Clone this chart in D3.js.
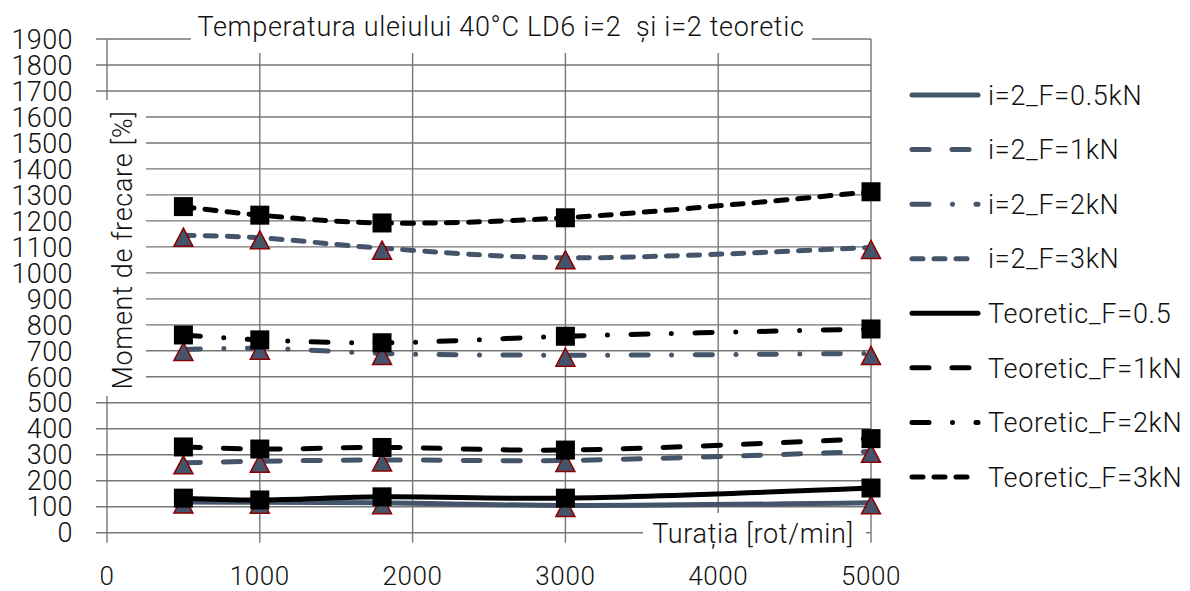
<!DOCTYPE html>
<html>
<head>
<meta charset="utf-8">
<script src="https://cdn.jsdelivr.net/npm/d3@7/dist/d3.min.js"></script>
<style>
  html, body { margin: 0; padding: 0; background: #fff; }
  svg { display: block; }
  text { font-family: Roboto, "Noto Sans", sans-serif; font-weight: 300; fill: #111; white-space: pre; }
</style>
</head>
<body>
<svg id="chart" width="1190" height="591"></svg>
<script>
// Rotational speed (rot/min) at which the friction moment was measured
const turatii = [500, 1000, 1800, 3000, 5000];

// Measured friction moment, i=2
const i2_F05 = [118, 117, 115, 105, 115];
const i2_F1  = [269, 275, 280, 278, 313];
const i2_F2  = [705, 710, 690, 683, 690];
const i2_F3  = [1145, 1135, 1095, 1058, 1098];

// Theoretical friction moment
const teor_F05 = [133, 126, 138, 133, 172];
const teor_F1  = [330, 322, 328, 318, 362];
const teor_F2  = [761, 742, 731, 756, 784];
const teor_F3  = [1255, 1222, 1192, 1212, 1312];

const seriesNames = [
  "i=2_F=0.5kN", "i=2_F=1kN", "i=2_F=2kN", "i=2_F=3kN",
  "Teoretic_F=0.5", "Teoretic_F=1kN", "Teoretic_F=2kN", "Teoretic_F=3kN"
];
const seriesValues = [i2_F05, i2_F1, i2_F2, i2_F3, teor_F05, teor_F1, teor_F2, teor_F3];

const xTicks = [0, 1000, 2000, 3000, 4000, 5000];
const yTicks = d3.range(0, 2000, 100);

const titleText = "Temperatura uleiului 40°C LD6 i=2  și i=2 teoretic";
const xTitle = "Turația [rot/min]";
const yTitle = "Moment de frecare [%]";

// ---- styling ----
const GREY = "#44546a";
const BLACK = "#000000";
const TRI_EDGE = "#8b0000";
const GRID = "#767676";
const dashes = [null, "17,23", "17,23.5,0,23.5", "11,11"];
const styles = seriesNames.map((n, i) => ({
  color: i < 4 ? GREY : BLACK,
  dash: dashes[i % 4],
  marker: i < 4 ? "triangle" : "square"
}));

const svg = d3.select("#chart");
const x = d3.scaleLinear().domain([0, 5000]).range([107, 871]);
const y = d3.scaleLinear().domain([0, 1900]).range([532.7, 39]);
const FS = 27;
const LS = "0.7px";

// ---- grid ----
const grid = svg.append("g");
grid.selectAll("line.h").data(yTicks).join("line")
  .attr("x1", x(0) - 11).attr("x2", x(5000))
  .attr("y1", d => y(d)).attr("y2", d => y(d))
  .attr("stroke", GRID).attr("stroke-width", 1.4);
grid.selectAll("line.v").data(xTicks).join("line")
  .attr("x1", d => x(d)).attr("x2", d => x(d))
  .attr("y1", y(1900)).attr("y2", y(0) + 10)
  .attr("stroke", GRID).attr("stroke-width", 1.4);

// ---- tick labels ----
svg.append("g").selectAll("text").data(yTicks).join("text")
  .attr("x", 73).attr("y", d => y(d))
  .attr("dy", "0.36em").attr("text-anchor", "end")
  .attr("font-size", FS).attr("letter-spacing", "0.4px").text(d => d);
svg.append("g").selectAll("text").data(xTicks).join("text")
  .attr("x", d => x(d)).attr("y", 585)
  .attr("text-anchor", "middle")
  .attr("font-size", 26).attr("letter-spacing", "0.6px").text(d => d);

// ---- titles on white plates ----
svg.append("rect").attr("x", 191).attr("y", 0).attr("width", 621).attr("height", 53).attr("fill", "#fff");
svg.append("text").attr("x", 501).attr("y", 36).attr("text-anchor", "middle")
  .attr("font-size", FS).attr("letter-spacing", LS).text(titleText);

svg.append("rect").attr("x", 90).attr("y", 100).attr("width", 56).attr("height", 296).attr("fill", "#fff");
svg.append("text").attr("transform", "translate(122,250) rotate(-90)")
  .attr("text-anchor", "middle").attr("dy", "0.36em")
  .attr("font-size", FS).attr("letter-spacing", LS).text(yTitle);

svg.append("rect").attr("x", 643).attr("y", 513).attr("width", 223).attr("height", 40).attr("fill", "#fff");
svg.append("text").attr("x", 753).attr("y", 543).attr("text-anchor", "middle")
  .attr("font-size", FS).attr("letter-spacing", LS).text(xTitle);

// ---- series ----
const line = d3.line()
  .x((d, i) => x(turatii[i]))
  .y(d => y(d))
  .curve(d3.curveCatmullRom.alpha(0.5));

function drawMarker(g, kind, cx, cy) {
  if (kind === "square") {
    g.append("rect").attr("x", cx - 9.5).attr("y", cy - 9.5)
      .attr("width", 19).attr("height", 19).attr("fill", BLACK);
  } else {
    const w = 19, h = 18, off = 2;
    g.append("path")
      .attr("d", `M${cx},${cy - h / 2 + off}L${cx + w / 2},${cy + h / 2 + off}L${cx - w / 2},${cy + h / 2 + off}Z`)
      .attr("fill", GREY).attr("stroke", TRI_EDGE).attr("stroke-width", 1.5)
      .attr("stroke-linejoin", "miter");
  }
}

seriesValues.forEach((vals, si) => {
  const st = styles[si];
  const g = svg.append("g");
  g.append("path").attr("d", line(vals))
    .attr("fill", "none").attr("stroke", st.color).attr("stroke-width", 5)
    .attr("stroke-linecap", "round").attr("stroke-linejoin", "round")
    .attr("stroke-dasharray", st.dash);
  vals.forEach((v, i) => drawMarker(g, st.marker, x(turatii[i]), y(v)));
});

// ---- legend ----
const legY = d3.scaleLinear().domain([0, 7]).range([95, 477]);
const leg = svg.append("g").selectAll("g").data(seriesNames).join("g")
  .attr("transform", (d, i) => `translate(0,${legY(i)})`);
leg.append("line").attr("x1", 912).attr("x2", 978).attr("y1", 0).attr("y2", 0)
  .attr("stroke", (d, i) => styles[i].color).attr("stroke-width", 5)
  .attr("stroke-linecap", "round")
  .attr("stroke-dasharray", (d, i) => styles[i].dash);
leg.append("text").attr("x", 988).attr("dy", "0.36em")
  .attr("font-size", FS).attr("letter-spacing", LS).text(d => d);
</script>
</body>
</html>
